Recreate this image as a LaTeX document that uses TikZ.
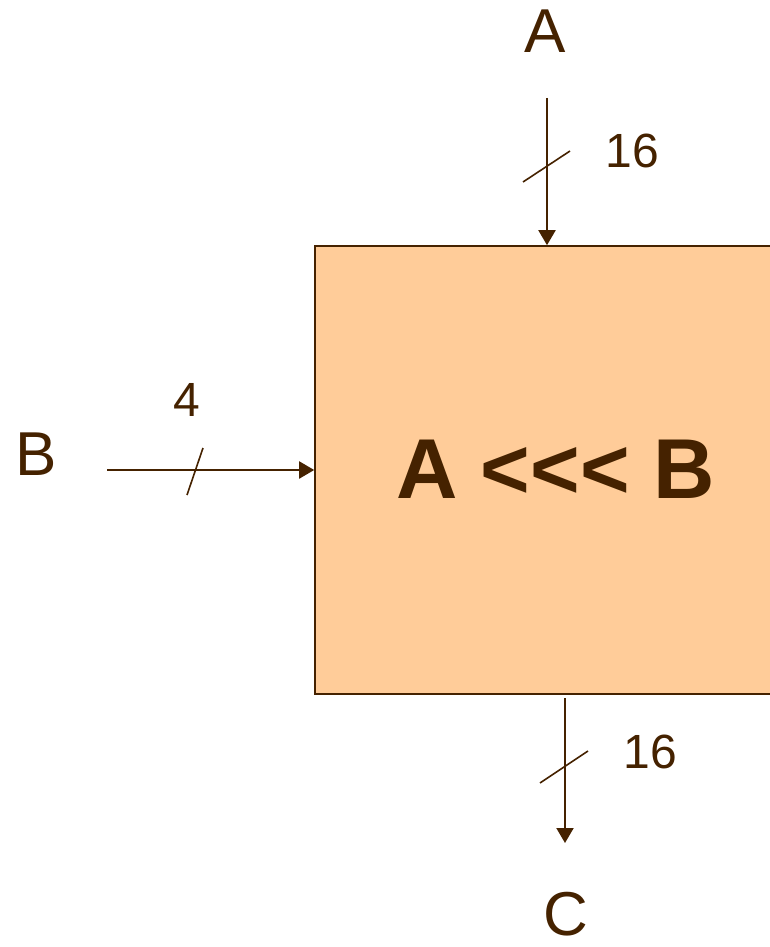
\documentclass[tikz,border=0pt]{standalone}
\usepackage{fontspec}
\setmainfont{Liberation Sans}
\usepackage{tikz}
\usetikzlibrary{arrows.meta,positioning,calc}
\definecolor{ink}{HTML}{452200}
\definecolor{boxfill}{HTML}{FFCC99}

\begin{document}
\begin{tikzpicture}[x=1pt,y=-1pt,
    blockbox/.style={rectangle, draw=ink, fill=boxfill, line width=1.6pt,
                     minimum width=485pt, minimum height=448pt, inner sep=0pt},
    optext/.style={text=ink, inner sep=0pt, font=\fontsize{85}{85}\selectfont\bfseries},
    siglabel/.style={text=ink, font=\fontsize{62}{62}\selectfont, inner sep=0pt},
    buslabel/.style={text=ink, font=\fontsize{48}{48}\selectfont, inner sep=0pt},
    sig/.style={draw=ink, line width=2pt, -{Triangle[width=17pt,length=15pt]}},
    slash/.style={draw=ink, line width=1.6pt},
]
\useasboundingbox (0,0) rectangle (769,947);

\node[blockbox] (shl) at (557.5,470) {};
\node[optext] (op) at (555.5,469) {A {<}{<}{<} B};

\node[siglabel] (lA) at (545,31) {A};
\node[siglabel] (lB) at (36,454) {B};
\node[siglabel] (lC) at (566,914) {C};

\coordinate (ina) at (547,98);
\coordinate (inb) at (107,470);
\coordinate (outc) at (565,698);
\coordinate (endc) at (565,843);

% input A, 16 bits
\draw[sig] (ina) -- (ina |- shl.north);
\draw[slash] (523,182) -- (570,151);
\node[buslabel] (wA) at (632,150.5) {16};

% input B, 4 bits
\draw[sig] (inb) -- (inb -| shl.west);
\draw[slash] (187,495) -- (203,448);
\node[buslabel] (wB) at (187,399.5) {4};

% output C, 16 bits
\draw[sig] (outc) -- (endc);
\draw[slash] (540,783) -- (588,751);
\node[buslabel] (wC) at (650,752) {16};
\end{tikzpicture}
\end{document}
